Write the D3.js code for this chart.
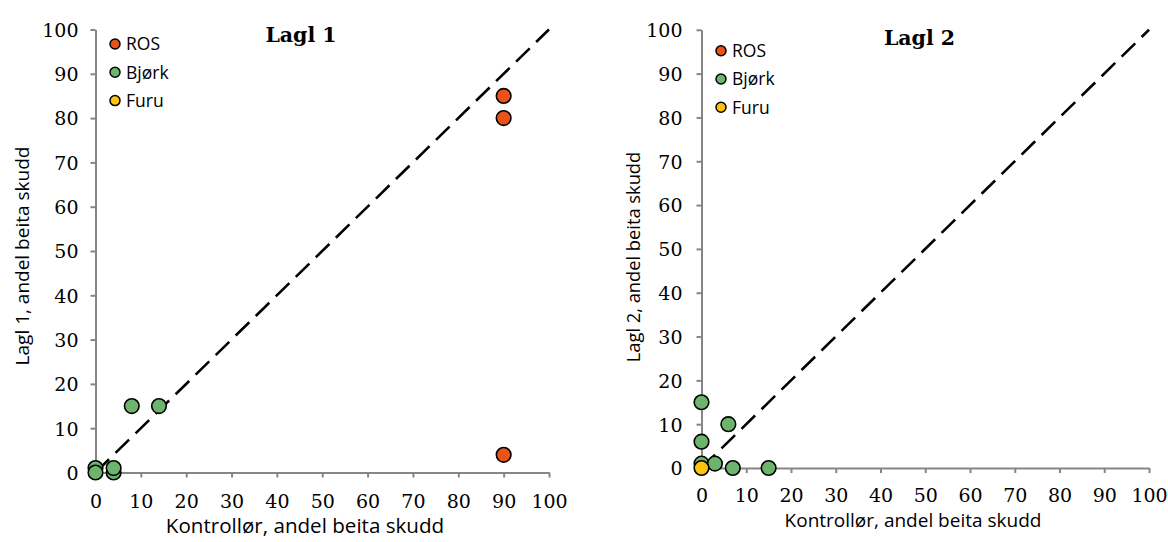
<!DOCTYPE html>
<html>
<head>
<meta charset="utf-8">
<script src="https://cdn.jsdelivr.net/npm/d3@7"></script>
<style>
  html, body { margin: 0; padding: 0; background: #fff; }
  svg { display: block; }
</style>
</head>
<body>
<svg id="chart" width="1168" height="542"></svg>
<script>
// Series names and colours
const seriesNames = ["ROS", "Bjørk", "Furu"];
const seriesColors = ["#E9531A", "#6DB56D", "#FFC20E"];

// Lagl 1: [kontrollør, lagl] pairs per series
const lagl1Ros   = [[90, 85], [90, 80], [90, 4]];
const lagl1Bjork = [[8, 15], [14, 15], [0, 1], [0, 0], [4, 0], [4, 1]];
const lagl1Furu  = [];

// Lagl 2: [kontrollør, lagl] pairs per series
const lagl2Ros   = [];
const lagl2Bjork = [[0, 15], [6, 10], [0, 6], [0, 1], [3, 1], [7, 0], [15, 0]];
const lagl2Furu  = [[0, 0]];

// Axis ticks (0–100 on both axes) and the 1:1 reference line
const tickValues = [0, 10, 20, 30, 40, 50, 60, 70, 80, 90, 100];
const oneToOne = [[0, 0], [100, 100]];

const xTitle = "Kontrollør, andel beita skudd";
const sansFont = "'Open Sans', sans-serif";
const serifFont = "'DejaVu Serif', serif";

const svg = d3.select("#chart");

function drawPanel(p) {
  const x = d3.scaleLinear().domain([0, 100]).range([p.left, p.right]);
  const y = d3.scaleLinear().domain([0, 100]).range([p.bottom, p.top]);
  const g = svg.append("g");

  // axes
  const xAxis = d3.axisBottom(x).tickValues(tickValues).tickSize(5).tickSizeOuter(0).tickPadding(p.xPad);
  const yAxis = d3.axisLeft(y).tickValues(tickValues).tickSize(5).tickSizeOuter(0).tickPadding(p.yPad);

  const gx = g.append("g").attr("transform", `translate(0,${p.bottom})`).call(xAxis);
  const gy = g.append("g").attr("transform", `translate(${p.left},0)`).call(yAxis);

  [gx, gy].forEach(a => {
    a.selectAll("path.domain").attr("stroke", "#868686").attr("stroke-width", 2);
    a.selectAll(".tick line").attr("stroke", "#868686").attr("stroke-width", 2);
    a.selectAll(".tick text")
      .attr("fill", "#000")
      .style("font-family", serifFont)
      .style("font-size", "19px");
  });
  gy.selectAll(".tick text").attr("dy", "0.36em");

  // 1:1 dashed line
  g.append("path")
    .datum(oneToOne)
    .attr("d", d3.line().x(d => x(d[0])).y(d => y(d[1])))
    .attr("fill", "none")
    .attr("stroke", "#000")
    .attr("stroke-width", 2.6)
    .attr("stroke-dasharray", "19,9");

  // points, series in order
  p.series.forEach((pts, i) => {
    g.append("g").selectAll("circle")
      .data(pts)
      .join("circle")
      .attr("cx", d => x(d[0]))
      .attr("cy", d => y(d[1]))
      .attr("r", 7.3)
      .attr("fill", seriesColors[i])
      .attr("stroke", "#000")
      .attr("stroke-width", 1.6);
  });

  // legend
  const leg = g.append("g");
  seriesNames.forEach((name, i) => {
    const ly = p.legendY + i * p.legendStep;
    leg.append("circle")
      .attr("cx", p.legendX).attr("cy", ly).attr("r", 5)
      .attr("fill", seriesColors[i]).attr("stroke", "#000").attr("stroke-width", 1.5);
    leg.append("text")
      .attr("x", p.legendX + 11).attr("y", ly).attr("dy", "0.36em")
      .style("font-family", sansFont).style("font-size", "17.5px")
      .text(name);
  });

  // panel title
  g.append("text")
    .attr("x", p.titleX).attr("y", p.titleY)
    .attr("text-anchor", "middle")
    .style("font-family", serifFont)
    .style("font-weight", "bold")
    .style("font-size", "20.5px")
    .text(p.title);

  // axis titles
  g.append("text")
    .attr("x", p.xTitleX).attr("y", p.xTitleY)
    .attr("text-anchor", "middle")
    .style("font-family", sansFont)
    .style("font-size", p.xTitleFont + "px")
    .text(xTitle);

  g.append("text")
    .attr("transform", `translate(${p.yTitleX},${p.yTitleY}) rotate(-90)`)
    .attr("text-anchor", "middle")
    .attr("dy", "0.35em")
    .style("font-family", sansFont)
    .style("font-size", p.yTitleFont + "px")
    .text(p.yTitle);
}

drawPanel({
  left: 95.5, right: 549, top: 29.5, bottom: 472.5, xPad: 17, yPad: 12,
  series: [lagl1Ros, lagl1Bjork, lagl1Furu],
  legendX: 115, legendY: 44, legendStep: 28.3,
  title: "Lagl 1", titleX: 301, titleY: 42,
  xTitleX: 305, xTitleY: 533, xTitleFont: 20.6,
  yTitleX: 22, yTitleY: 256, yTitleFont: 19,
  yTitle: "Lagl 1, andel beita skudd"
});

drawPanel({
  left: 701.5, right: 1149, top: 29.8, bottom: 468, xPad: 16, yPad: 14,
  series: [lagl2Ros, lagl2Bjork, lagl2Furu],
  legendX: 721, legendY: 50.7, legendStep: 28.3,
  title: "Lagl 2", titleX: 919.5, titleY: 45,
  xTitleX: 913, xTitleY: 527, xTitleFont: 19,
  yTitleX: 634, yTitleY: 257, yTitleFont: 18.3,
  yTitle: "Lagl 2, andel beita skudd"
});
</script>
</body>
</html>
